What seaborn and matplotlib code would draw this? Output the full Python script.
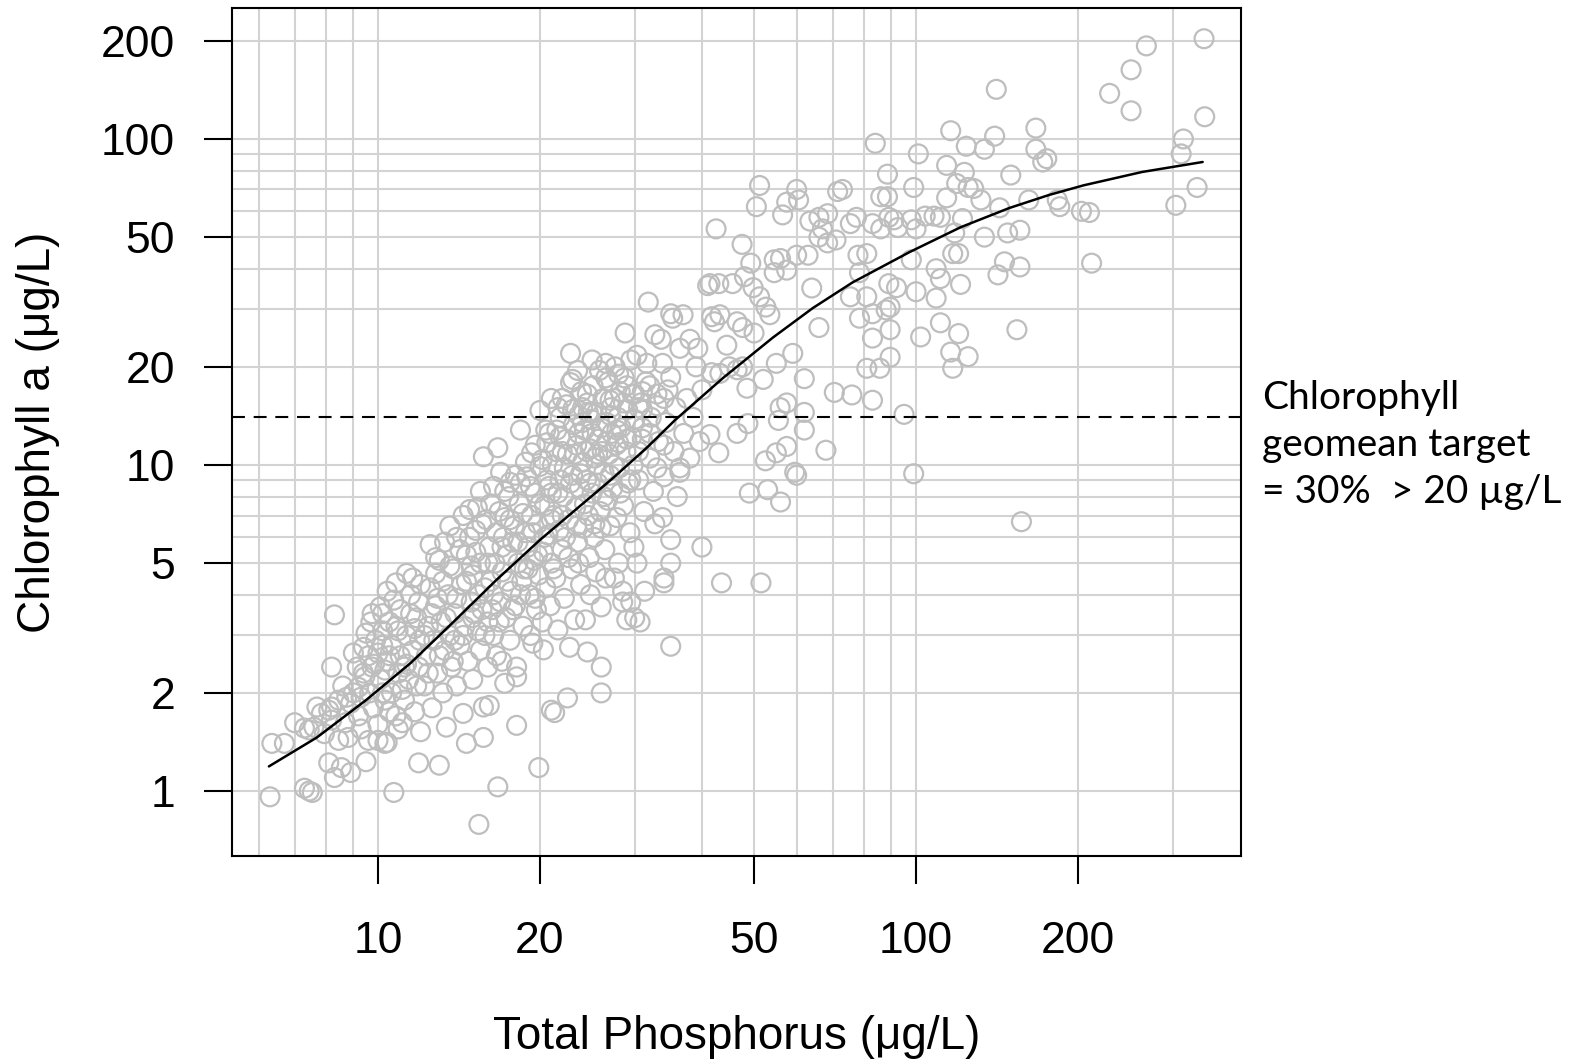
import matplotlib
matplotlib.use("Agg")
import matplotlib.pyplot as plt
import seaborn as sns
import pandas as pd
from matplotlib.ticker import NullFormatter

# ---- dados: fosforo total (TP) e clorofila a, ug/L ----
# TP < 12
tp_low = [6.3, 6.35, 6.7, 7.0, 7.6, 7.45, 7.95, 8.2, 8.2, 8.45,
          8.1, 8.7, 8.8, 8.45, 8.2, 8.3, 7.45, 7.3, 7.55, 8.3,
          8.55, 8.1, 8.9, 9.5, 10.0, 10.3, 9.6, 9.3, 8.9, 9.2,
          9.45, 9.75, 10.0, 7.3, 7.7, 7.85, 8.75, 9.15, 9.0, 9.4,
          9.5, 9.75, 10.2, 10.1, 10.7, 10.8, 11.3, 10.7, 11.1, 12.0,
          10.4, 9.2, 9.4, 9.6, 9.8, 9.9, 10.1, 10.2, 10.3, 10.4,
          10.5, 10.6, 10.6, 10.8, 10.9, 11.0, 11.0, 11.2, 11.3, 11.4,
          11.5, 11.6, 11.7, 11.8, 11.9, 11.95, 11.9, 9.0, 9.7, 10.0,
          10.4, 10.9, 11.6, 11.1, 10.3, 9.85, 11.9, 8.6, 9.3, 10.5,
          11.3, 11.7, 10.9, 10.2, 9.65]
chl_low = [0.96, 1.40, 1.40, 1.62, 1.57, 1.54, 1.50, 1.65, 1.81, 1.90,
           1.77, 1.62, 1.46, 1.43, 2.40, 3.47, 1.00, 1.02, 0.99, 1.10,
           1.18, 1.22, 1.14, 1.23, 1.43, 1.40, 1.43, 1.94, 1.86, 2.08,
           2.24, 2.40, 2.65, 1.56, 1.81, 1.73, 1.94, 2.40, 2.65, 2.76,
           3.05, 3.50, 3.50, 3.67, 3.85, 4.35, 4.65, 0.99, 1.62, 1.52,
           1.41, 1.70, 2.30, 2.60, 1.80, 2.90, 2.20, 3.10, 1.90, 2.50,
           3.30, 2.00, 2.80, 1.70, 2.30, 3.60, 2.60, 1.90, 3.00, 2.20,
           4.00, 2.70, 1.75, 3.40, 2.40, 2.90, 3.80, 2.00, 3.30, 1.60,
           4.10, 1.55, 4.50, 2.05, 2.35, 2.45, 1.22, 2.10, 1.55, 1.75,
           2.45, 3.15, 3.10, 2.80, 2.00]

# TP 12 - 20
tp_core = [12.2, 12.3, 12.4, 12.5, 12.6, 12.7, 12.8, 12.8, 12.9, 13.0,
           13.0, 13.1, 13.2, 13.3, 13.3, 13.4, 13.5, 13.6, 13.7, 13.8,
           13.9, 14.0, 14.0, 14.2, 14.3, 14.4, 14.5, 14.6, 14.6, 14.7,
           14.8, 14.9, 15.0, 15.0, 15.2, 15.3, 15.3, 15.4, 15.5, 15.5,
           15.6, 15.7, 15.7, 15.7, 15.8, 15.9, 16.0, 16.0, 16.1, 16.1,
           16.2, 16.4, 16.4, 16.5, 16.6, 16.7, 16.7, 16.8, 16.9, 16.9,
           17.0, 17.1, 17.2, 17.2, 17.3, 17.4, 17.5, 17.6, 17.6, 17.7,
           17.9, 18.0, 18.1, 18.1, 18.1, 18.2, 18.3, 18.4, 18.4, 18.5,
           18.6, 18.8, 18.9, 19.0, 19.1, 19.2, 19.3, 19.3, 19.4, 19.5,
           19.6, 19.7, 19.8, 19.9, 19.9, 20.0, 20.0, 12.5, 13.6, 14.4,
           12.9, 13.9, 14.9, 15.1, 16.3, 17.0, 17.8, 18.7, 19.6, 15.5]
chl_core = [2.1, 2.6, 3.2, 4.2, 1.8, 2.9, 3.7, 4.65, 2.3, 1.2,
            5.1, 3.3, 2.0, 2.7, 5.8, 1.57, 4.0, 3.0, 2.4, 4.8,
            3.5, 6.0, 2.1, 2.8, 4.3, 1.73, 3.2, 5.3, 1.40, 2.5,
            7.3, 3.8, 4.6, 2.2, 6.3, 7.4, 3.1, 0.79, 2.7, 5.0,
            3.6, 1.46, 1.81, 10.6, 4.2, 6.8, 2.4, 3.3, 1.83, 5.6,
            4.4, 8.6, 3.0, 5.0, 2.6, 11.3, 1.03, 7.2, 9.5, 3.8,
            4.7, 6.0, 2.14, 6.9, 3.4, 5.3, 8.0, 8.85, 2.9, 4.1,
            6.5, 3.7, 2.24, 2.4, 1.59, 5.0, 7.6, 8.8, 12.8, 4.4,
            3.2, 6.2, 9.2, 5.6, 4.0, 3.0, 10.9, 7.0, 2.84, 5.1,
            8.2, 3.6, 6.6, 1.18, 4.6, 9.9, 14.7, 5.7, 6.5, 7.0,
            3.9, 2.9, 4.9, 3.5, 3.6, 2.5, 5.8, 4.8, 3.9, 8.3]

# nucleo mais denso, TP 10 - 34
tp_dense = [10.2, 10.5, 10.8, 11.2, 11.5, 11.8, 12.0, 12.2, 12.4, 12.6,
            12.8, 13.0, 13.2, 13.4, 13.6, 13.8, 14.0, 14.2, 14.4, 14.6,
            14.8, 15.0, 15.2, 15.4, 15.6, 15.8, 16.0, 16.2, 16.4, 16.6,
            16.8, 17.0, 17.2, 17.4, 17.6, 17.8, 18.0, 18.2, 18.4, 18.6,
            18.8, 19.0, 19.2, 19.4, 19.6, 19.8, 20.0, 20.2, 20.4, 20.6,
            20.8, 21.0, 21.2, 21.4, 21.6, 21.8, 22.0, 22.2, 22.4, 22.6,
            22.8, 23.0, 23.2, 23.4, 23.6, 23.8, 24.0, 24.2, 24.4, 24.6,
            24.8, 25.0, 25.3, 25.6, 26.0, 26.3, 26.6, 27.0, 27.4, 27.8,
            28.2, 28.6, 29.0, 29.5, 30.0, 30.5, 31.0, 32.0, 33.0, 34.0]
chl_dense = [2.0, 2.6, 3.2, 2.4, 3.5, 2.1, 4.3, 3.0, 2.3, 3.5,
             5.2, 2.6, 4.4, 3.4, 4.9, 2.5, 3.9, 5.5, 3.0, 4.4,
             6.0, 3.4, 5.4, 4.0, 6.6, 3.0, 5.0, 7.6, 4.0, 6.2,
             3.3, 5.6, 8.3, 4.4, 6.8, 3.6, 9.3, 5.8, 4.0, 7.1,
             10.2, 4.8, 8.6, 6.2, 11.5, 5.3, 7.6, 10.4, 6.0, 9.0,
             12.5, 6.8, 4.8, 11.0, 8.2, 14.0, 7.0, 9.8, 12.0, 5.2,
             8.8, 14.8, 10.8, 6.5, 12.5, 9.4, 13.5, 7.6, 11.0, 14.5,
             8.8, 12.5, 6.6, 10.8, 13.0, 8.0, 11.8, 15.8, 10.0, 12.8,
             8.2, 15.5, 12.0, 9.0, 16.5, 11.0, 13.0, 12.5, 9.8, 11.5]

# TP 20 - 30
tp_mid = [20.2, 20.3, 20.3, 20.4, 20.5, 20.6, 20.7, 20.8, 20.9, 21.0,
          21.0, 21.0, 21.1, 21.2, 21.3, 21.4, 21.5, 21.6, 21.6, 21.7,
          21.8, 21.8, 22.0, 22.0, 22.1, 22.2, 22.4, 22.5, 22.5, 22.6,
          22.7, 22.8, 22.8, 22.9, 23.0, 23.0, 23.1, 23.2, 23.3, 23.4,
          23.5, 23.6, 23.7, 23.8, 23.9, 24.0, 24.1, 24.2, 24.3, 24.4,
          24.5, 24.5, 24.6, 24.7, 24.8, 24.9, 25.0, 25.1, 25.2, 25.3,
          25.4, 25.5, 25.6, 25.7, 25.8, 25.9, 26.0, 26.0, 26.0, 26.1,
          26.2, 26.3, 26.4, 26.5, 26.6, 26.7, 26.8, 26.9, 27.0, 27.1,
          27.2, 27.3, 27.5, 27.6, 27.7, 27.8, 27.9, 28.0, 28.1, 28.2,
          28.3, 28.5, 28.5, 28.6, 28.7, 28.8, 28.9, 29.0, 29.1, 29.2,
          29.4, 29.5, 29.5, 29.6, 29.7, 29.8, 29.9, 30.0, 30.0, 24.0,
          25.0, 26.5, 27.0, 28.0, 29.0, 23.5, 25.0, 26.5, 24.5, 27.5,
          21.0, 22.3, 23.6, 24.8, 26.0, 27.0, 28.0, 20.5, 22.0, 25.5]
chl_mid = [3.3, 2.71, 5.4, 7.5, 4.2, 11.7, 6.1, 8.6, 3.7, 1.77,
           5.0, 16.0, 10.0, 7.0, 1.74, 4.5, 12.8, 3.12, 15.0, 6.3,
           9.0, 12.2, 5.5, 16.0, 8.0, 3.9, 15.3, 1.93, 10.8, 6.8,
           2.76, 17.9, 22.0, 4.8, 18.3, 9.3, 13.3, 3.35, 7.4, 11.5,
           5.8, 14.2, 8.5, 4.3, 16.8, 10.2, 6.4, 12.8, 3.35, 9.0,
           2.67, 15.5, 7.0, 5.2, 11.2, 13.8, 8.2, 17.5, 6.0, 10.5,
           4.7, 14.5, 8.8, 12.0, 19.5, 7.2, 2.4, 2.0, 3.67, 11.0,
           16.0, 9.5, 5.5, 4.5, 13.5, 7.8, 18.0, 10.8, 6.5, 15.0,
           12.5, 8.5, 4.5, 20.0, 11.5, 6.9, 14.0, 5.0, 9.8, 16.8,
           13.0, 3.8, 4.1, 7.5, 18.5, 25.4, 11.0, 3.35, 14.8, 8.8,
           6.2, 21.0, 3.8, 12.2, 16.5, 10.0, 5.6, 3.4, 13.8, 15.0,
           14.5, 18.5, 14.2, 19.0, 17.5, 19.5, 21.0, 20.5, 16.5, 16.0,
           8.2, 6.0, 5.0, 4.0, 6.4, 9.3, 11.7, 12.8, 11.0, 10.0]

# TP 30 - 40
tp_upper = [30.3, 30.3, 30.5, 30.7, 30.8, 31.0, 31.2, 31.3, 31.5, 31.6,
            31.8, 32.0, 32.2, 32.5, 32.7, 32.7, 33.0, 33.2, 33.6, 33.8,
            33.8, 34.0, 34.0, 34.0, 34.3, 34.6, 35.0, 35.0, 35.0, 35.0,
            35.0, 35.3, 35.5, 35.8, 36.0, 36.4, 36.4, 36.4, 36.9, 37.0,
            37.5, 38.0, 38.0, 38.5, 39.0, 39.3, 39.6, 40.0, 40.0, 30.5,
            31.0, 32.0, 33.0, 34.0, 31.0]
chl_upper = [5.0, 21.7, 9.0, 3.3, 15.5, 12.0, 7.2, 4.1, 18.0, 20.5,
             31.6, 10.5, 14.0, 8.3, 6.6, 25.1, 16.5, 11.8, 24.3, 6.9,
             20.5, 4.5, 9.2, 4.35, 13.5, 17.0, 2.78, 5.9, 5.0, 29.1,
             18.6, 28.2, 11.0, 15.0, 8.0, 9.5, 9.8, 22.8, 28.9, 12.5,
             16.0, 24.3, 10.5, 14.0, 20.0, 22.8, 11.8, 5.6, 17.0, 15.0,
             16.8, 17.5, 15.2, 16.0, 14.8]

# TP 40 - 57
tp_right = [41.0, 41.4, 41.4, 41.7, 41.7, 42.2, 42.5, 43.0, 43.0, 43.2,
            43.2, 43.5, 44.5, 45.0, 45.6, 46.5, 46.5, 46.5, 47.5, 47.6,
            47.6, 48.0, 48.5, 48.7, 49.0, 49.3, 49.8, 50.0, 50.5, 51.2,
            51.2, 51.5, 52.0, 52.5, 52.6, 53.0, 53.5, 54.5, 54.5, 55.0,
            55.0, 55.5, 55.9, 56.0, 56.0, 56.5]
chl_right = [35.5, 36.0, 12.4, 28.5, 19.2, 27.5, 53.0, 10.9, 36.0, 28.9,
             19.1, 4.35, 23.3, 20.0, 36.0, 12.5, 27.5, 19.6, 47.5, 26.4,
             20.0, 37.8, 17.2, 13.4, 8.2, 41.6, 35.0, 25.4, 62.0, 72.0,
             32.8, 4.35, 18.3, 10.3, 30.5, 8.4, 28.9, 42.6, 38.9, 10.9,
             20.5, 13.7, 15.0, 43.0, 7.7, 58.5]

# TP 57 - 100
tp_high = [57.5, 57.5, 57.5, 57.5, 59.0, 59.5, 60.0, 60.0, 60.5, 60.0,
           62.0, 62.0, 62.0, 63.0, 63.5, 64.0, 66.0, 66.0, 66.0, 67.0,
           68.0, 68.5, 68.5, 70.5, 71.0, 71.5, 73.0, 75.5, 75.5, 76.0,
           77.5, 78.0, 78.5, 78.5, 81.0, 81.0, 81.0, 83.0, 83.0, 83.0,
           83.0, 84.0, 85.7, 86.0, 86.0, 88.0, 88.5, 88.5, 89.0, 89.0,
           89.5, 89.5, 89.5, 91.0, 92.0, 95.0, 92.5, 99.0, 98.0, 98.0,
           99.0, 100.0, 100.0]
chl_high = [64.0, 39.6, 11.4, 15.5, 22.0, 9.5, 9.3, 70.0, 65.0, 44.0,
            12.8, 18.4, 14.5, 44.0, 56.0, 34.9, 57.5, 50.0, 26.4, 53.0,
            11.1, 59.0, 48.0, 16.7, 49.0, 69.0, 70.0, 55.0, 32.8, 16.4,
            57.5, 44.0, 38.9, 28.2, 44.5, 32.8, 19.8, 55.0, 29.1, 24.5,
            15.8, 97.0, 19.8, 53.0, 66.5, 29.9, 78.0, 66.5, 57.5, 36.0,
            30.5, 26.0, 21.4, 56.5, 35.0, 14.3, 53.5, 9.4, 56.5, 42.6,
            71.0, 53.0, 34.0]

# TP > 100
tp_top = [101, 102, 104, 108, 109, 109, 111, 111, 111, 114,
          114, 116, 116, 117, 117, 118, 119, 120, 120, 121,
          122, 123, 124, 125, 125, 128, 132, 134, 134, 140,
          141, 142, 143, 146, 148, 150, 154, 156, 156, 157,
          162, 167, 167, 172, 175, 183, 185, 203, 210, 212,
          229, 251, 251, 268, 304, 311, 314, 333, 343, 344]
chl_top = [90, 24.7, 58, 58, 40, 32.5, 57.5, 37.3, 27.3, 83,
           66, 106, 22.2, 44.5, 19.8, 51.5, 73, 44.5, 25.3, 35.8,
           57, 79, 95, 71, 21.5, 70.5, 65, 93, 50, 102,
           142, 38.3, 61.5, 42, 51.5, 77.5, 26, 52.5, 40.5, 6.7,
           65, 108, 93, 85, 87, 65, 62, 60, 59.5, 41.6,
           138, 163, 122, 193, 62.6, 90, 100, 71, 203, 117]

# curva ajustada
curve_tp = [6.27, 7.7, 9.5, 11.5, 13.6, 16.6, 20.0, 23.5, 27.3, 31.6, 35.6,
            43.8, 54.2, 64.3, 76.2, 97.3, 121, 149, 177, 205, 263, 341]
curve_chl = [1.19, 1.46, 1.90, 2.47, 3.22, 4.44, 5.89, 7.38, 9.1, 11.3, 13.7,
             18.5, 24.6, 30.3, 36.3, 45.0, 53.6, 61.4, 67.4, 72.1, 79.2, 85.0]

chl_target = 14.0

x_ticks = [10, 20, 50, 100, 200]
y_ticks = [1, 2, 5, 10, 20, 50, 100, 200]
x_grid = [6, 7, 8, 9, 10, 20, 30, 40, 50, 60, 70, 80, 90, 100, 200, 300]
y_grid = [1, 2, 3, 4, 5, 6, 7, 8, 9, 10, 20, 30, 40, 50, 60, 70, 80, 90, 100, 200]

df = pd.DataFrame({
    "tp": tp_low + tp_core + tp_dense + tp_mid + tp_upper + tp_right + tp_high + tp_top,
    "chl": chl_low + chl_core + chl_dense + chl_mid + chl_upper + chl_right + chl_high + chl_top,
})
curva = pd.DataFrame({"tp": curve_tp, "chl": curve_chl})

# ---- grafico ----
sns.set_theme(style="white")
plt.rcParams["font.family"] = ["Liberation Sans", "DejaVu Sans"]

fig = plt.figure(figsize=(15.69, 10.63), dpi=100)
ax = fig.add_axes([232 / 1569, 1 - 856 / 1063, 1009 / 1569, 848 / 1063])
ax.set_xscale("log")
ax.set_yscale("log")

cinza = "#BEBEBE"
sns.scatterplot(data=df, x="tp", y="chl", ax=ax, s=185, color=cinza,
                linewidth=1.6, legend=False, zorder=3)
pts = ax.collections[-1]
pts.set_facecolor("none")
pts.set_edgecolor(cinza)

sns.lineplot(data=curva, x="tp", y="chl", ax=ax, color="black", lw=1.8,
             sort=False, estimator=None, zorder=4)
ax.axhline(chl_target, color="black", lw=1.5, ls=(0, (6.2, 4.2)), zorder=4)

ax.set_xlim(5.354, 401.8)
ax.set_ylim(0.632, 252.2)

# grade nas posicoes secundarias
ax.xaxis.remove_overlapping_locs = False
ax.yaxis.remove_overlapping_locs = False
ax.set_xticks(x_grid, minor=True)
ax.set_yticks(y_grid, minor=True)
ax.xaxis.set_minor_formatter(NullFormatter())
ax.yaxis.set_minor_formatter(NullFormatter())
ax.set_xticks(x_ticks, labels=[str(v) for v in x_ticks])
ax.set_yticks(y_ticks, labels=[str(v) for v in y_ticks])
ax.grid(False, which="major")
ax.grid(True, which="minor", color="#D3D3D3", lw=1.5)
ax.set_axisbelow(True)

ax.tick_params(which="minor", length=0)
ax.tick_params(which="major", bottom=True, left=True, length=20, width=1.5,
               color="black", labelsize=32, labelcolor="black")
ax.tick_params(axis="x", which="major", pad=27)
ax.tick_params(axis="y", which="major", pad=21)
for sp in ax.spines.values():
    sp.set_color("black")
    sp.set_linewidth(1.5)

ax.set_xlabel("Total Phosphorus (μg/L)", fontsize=33, color="black", va="center")
ax.xaxis.set_label_coords(0.5005, -0.2134)
ax.set_ylabel("Chlorophyll a (μg/L)", fontsize=33, color="black", va="center")
ax.yaxis.set_label_coords(-0.1923, 0.5)

fig.text(1262 / 1569, 1 - 445 / 1063, "Chlorophyll\ngeomean target\n= 30%  > 20 µg/L",
         family=["Lato", "DejaVu Sans"], fontsize=28, color="black",
         ha="left", va="center", linespacing=1.38)

fig.savefig("out.png", dpi=100)
